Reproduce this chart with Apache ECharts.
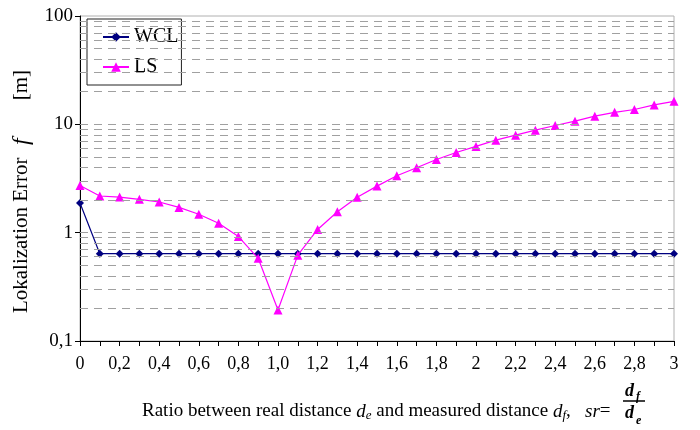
<!DOCTYPE html>
<html><head><meta charset="utf-8">
<script src="https://cdn.jsdelivr.net/npm/echarts@6/dist/echarts.min.js"></script>
<style>html,body{margin:0;padding:0;background:#fff}#c{width:700px;height:430px}</style>
</head><body><div id="c"></div>
<script>
const xCats = ['0','0,1','0,2','0,3','0,4','0,5','0,6','0,7','0,8','0,9','1,0','1,1','1,2','1,3','1,4','1,5','1,6','1,7','1,8','1,9','2','2,1','2,2','2,3','2,4','2,5','2,6','2,7','2,8','2,9','3'];
const wcl = [1.88,0.64,0.64,0.64,0.64,0.64,0.64,0.64,0.64,0.64,0.64,0.64,0.64,0.64,0.64,0.64,0.64,0.64,0.64,0.64,0.64,0.64,0.64,0.64,0.64,0.64,0.64,0.64,0.64,0.64,0.64];
const ls = [2.73,2.18,2.13,2.03,1.92,1.71,1.48,1.22,0.92,0.58,0.193,0.62,1.07,1.56,2.12,2.69,3.35,3.97,4.74,5.5,6.25,7.14,7.94,8.83,9.75,10.7,11.9,12.9,13.7,15.1,16.3];
const yTickValues = [0.1,1,10,100];
const yTickLabels = ['0,1','1','10','100'];
const gridValues = [0.2,0.3,0.4,0.5,0.6,0.7,0.8,0.9,1,2,3,4,5,6,7,8,9,10,20,30,40,50,60,70,80,90];

const font = '"Liberation Serif","Times New Roman",serif';
const bi = {fontFamily:font,fontStyle:'italic',fontWeight:'bold',color:'#000'};
const chart = echarts.init(document.getElementById('c'), null, {renderer:'canvas'});
chart.setOption({
  animation:false,
  backgroundColor:'#fff',
  textStyle:{fontFamily:font,color:'#000'},
  grid:{left:80,right:26,top:16,bottom:89,show:true,borderColor:'#b0b0b0',borderWidth:1,backgroundColor:'transparent'},
  legend:{
    left:87,top:19,orient:'vertical',
    data:['WCL','LS'],
    backgroundColor:'#fff',borderColor:'#222',borderWidth:1,
    padding:[8,3,8,15],itemGap:10,itemWidth:26,itemHeight:12,
    textStyle:{fontFamily:font,fontSize:20,color:'#000'}
  },
  xAxis:{
    type:'category',data:xCats,boundaryGap:false,
    axisLine:{lineStyle:{color:'#000',width:1}},
    axisTick:{show:true,interval:0,length:5,lineStyle:{color:'#000'}},
    axisLabel:{interval:1,margin:14,fontSize:18,fontFamily:font,color:'#000'},
    splitLine:{show:false}
  },
  yAxis:{
    type:'log',logBase:10,min:0.1,max:100,
    axisLine:{show:true,lineStyle:{color:'#000',width:1}},
    axisTick:{show:true,length:5,lineStyle:{color:'#000'}},
    axisLabel:{margin:7,fontSize:19,fontFamily:font,color:'#000',
      formatter:function(v){const i=yTickValues.findIndex(t=>Math.abs(t-v)/t<1e-6);return i>=0?yTickLabels[i]:'';}},
    splitLine:{show:false},
    name:'{a|Lokalization Error  }{i|f}{b|[m]}',
    nameLocation:'middle',nameGap:43,
    nameTextStyle:{rich:{
      a:{fontFamily:font,fontSize:21,color:'#000'},
      i:{fontFamily:font,fontSize:24,fontStyle:'italic',color:'#000',padding:[0,38,0,2]},
      b:{fontFamily:font,fontSize:21,color:'#000',padding:[0,26,0,0]}}}
  },
  series:[
    {name:'grid',type:'line',data:[],silent:true,z:1,
     markLine:{silent:true,symbol:'none',label:{show:false},animation:false,
       lineStyle:{color:'#a0a0a0',type:[8,6],width:1},
       data:gridValues.map(v=>({yAxis:v}))}},
    {name:'WCL',type:'line',data:wcl,symbol:'diamond',symbolSize:8,
     lineStyle:{color:'#000080',width:1.2},itemStyle:{color:'#000080'},z:3},
    {name:'LS',type:'line',data:ls,symbol:'triangle',symbolSize:9,
     lineStyle:{color:'#ff00ff',width:1.2},itemStyle:{color:'#ff00ff'},z:4}
  ],
  graphic:[
    {type:'text',left:142,top:402,z:10,style:{
      text:'{a|Ratio between real distance }{i|d}{s|e}{a| and measured distance }{i|d}{s|f}{a|,   }{i|sr}{a|=}',
      rich:{
        a:{fontFamily:font,fontSize:19,color:'#000'},
        i:{fontFamily:font,fontSize:19,fontStyle:'italic',color:'#000'},
        s:{fontFamily:font,fontSize:13,fontStyle:'italic',color:'#000',padding:[9,0,0,0]}
      }}},
    {type:'text',left:625,top:382,z:10,style:Object.assign({text:'d',fontSize:18},bi)},
    {type:'text',left:636,top:391,z:10,style:Object.assign({text:'f',fontSize:12},bi)},
    {type:'line',z:10,shape:{x1:623,y1:401,x2:645,y2:401},style:{stroke:'#000',lineWidth:1.5}},
    {type:'text',left:625,top:404,z:10,style:Object.assign({text:'d',fontSize:18},bi)},
    {type:'text',left:636,top:415,z:10,style:Object.assign({text:'e',fontSize:12},bi)}
  ]
});
</script></body></html>
